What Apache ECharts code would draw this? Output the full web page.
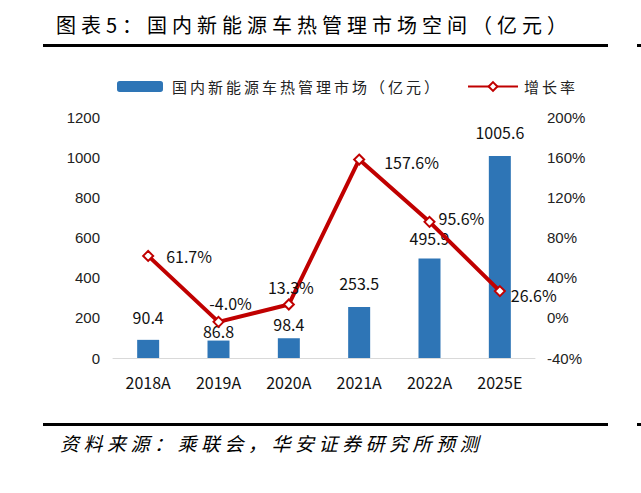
<!DOCTYPE html>
<html><head><meta charset="utf-8">
<script src="https://cdn.jsdelivr.net/npm/echarts@6/dist/echarts.min.js"></script>
<style>
html,body{margin:0;padding:0;background:#fff;}
#c{width:641px;height:493px;}
#c text[style*="20px"][style*="CJK"]{letter-spacing:5px;}
#c text[style*="15px"][style*="CJK"]{letter-spacing:3px;}
#c text[style*="19px"][style*="CJK"]{letter-spacing:4.5px;}
</style></head>
<body><div id="c"></div>
<script>
// ---- data ----
const titleText = '图表5：国内新能源车热管理市场空间（亿元）';
const sourceText = '资料来源：乘联会，华安证券研究所预测';
const categories = ['2018A', '2019A', '2020A', '2021A', '2022A', '2025E'];
const barName = '国内新能源车热管理市场（亿元）';
const lineName = '增长率';
const marketValues = [90.4, 86.8, 98.4, 253.5, 495.9, 1005.6];
const growthRates = [61.7, -4.0, 13.3, 157.6, 95.6, 26.6];
const leftTicks = [0, 200, 400, 600, 800, 1000, 1200];
const rightTicks = [-40, 0, 40, 80, 120, 160, 200];

// ---- styles ----
const CJK = 'Noto Sans CJK SC';
const barLabelDistance = [15, 2, 6, 16, 12, 16];
const lineLabelStyle = [
  {position: 'right', distance: 12, offset: [0, 0]},
  {position: 'top', distance: 5, offset: [12, 0]},
  {position: 'top', distance: 3, offset: [2, 0]},
  {position: 'right', distance: 19, offset: [0, 2]},
  {position: 'right', distance: 3, offset: [0, -4]},
  {position: 'right', distance: 5, offset: [0, 4]}
];

const chart = echarts.init(document.getElementById('c'), null, {renderer: 'svg'});
chart.setOption({
  animation: false,
  backgroundColor: '#fff',
  title: {
    text: titleText, left: 56, top: 14, padding: 0,
    textStyle: {fontSize: 20, fontWeight: 'normal', color: '#000', fontFamily: CJK}
  },
  legend: [
    {
      data: [barName], left: 117, top: 79, padding: 0, itemWidth: 46, itemHeight: 11, itemGap: 0,
      textStyle: {fontSize: 15, color: '#222', fontFamily: CJK, padding: [0, 0, 0, 4]}
    },
    {
      data: [lineName], left: 467, top: 79, padding: 0, itemWidth: 50, itemHeight: 11, itemGap: 0,
      textStyle: {fontSize: 15, color: '#222', fontFamily: CJK, padding: [0, 0, 0, 1]}
    }
  ],
  grid: {left: 113, right: 106, top: 117, bottom: 135, containLabel: false},
  xAxis: {
    type: 'category', data: categories,
    axisLine: {lineStyle: {color: '#D9D9D9', width: 1}},
    axisTick: {show: false},
    axisLabel: {fontSize: 16, fontFamily: CJK, color: '#111', margin: 16}
  },
  yAxis: [
    {
      type: 'value', min: leftTicks[0], max: leftTicks[leftTicks.length - 1], interval: leftTicks[1] - leftTicks[0],
      axisLine: {show: false}, axisTick: {show: false}, splitLine: {show: false},
      axisLabel: {fontSize: 15, fontFamily: 'Liberation Sans', color: '#222', margin: 13,
        formatter: v => String(v)}
    },
    {
      type: 'value', min: rightTicks[0], max: rightTicks[rightTicks.length - 1], interval: rightTicks[1] - rightTicks[0],
      axisLine: {show: false}, axisTick: {show: false}, splitLine: {show: false},
      axisLabel: {fontSize: 15, fontFamily: 'Liberation Sans', color: '#222', margin: 12,
        formatter: v => String(v) + '%'}
    }
  ],
  series: [
    {
      name: barName, type: 'bar', yAxisIndex: 0, barWidth: 22,
      itemStyle: {color: '#2E75B6'},
      label: {show: true, position: 'top', fontSize: 16, fontFamily: CJK, color: '#111',
        formatter: p => p.value.toFixed(1)},
      data: marketValues.map((v, i) => ({value: v, label: {distance: barLabelDistance[i]}}))
    },
    {
      name: lineName, type: 'line', yAxisIndex: 1, z: 5,
      color: '#C00000',
      lineStyle: {color: '#C00000', width: 4},
      symbol: 'diamond', symbolSize: 10,
      itemStyle: {color: '#fff', borderColor: '#C00000', borderWidth: 2},
      label: {show: true, fontSize: 16, fontFamily: CJK, color: '#111',
        formatter: p => p.value.toFixed(1) + '%'},
      data: growthRates.map((v, i) => ({value: v, label: lineLabelStyle[i]}))
    }
  ],
  graphic: [
    {type: 'rect', shape: {x: 43, y: 44, width: 565, height: 3}, style: {fill: '#000'}},
    {type: 'rect', shape: {x: 637, y: 44, width: 4, height: 3}, style: {fill: '#000'}},
    {type: 'rect', shape: {x: 43, y: 423, width: 565, height: 3}, style: {fill: '#000'}},
    {type: 'rect', shape: {x: 637, y: 423, width: 4, height: 3}, style: {fill: '#000'}},
    {type: 'text', left: 60, top: 433,
      style: {text: sourceText, fontSize: 19, fontStyle: 'italic', fontFamily: CJK, fill: '#000'}}
  ]
});
</script>
</body></html>
